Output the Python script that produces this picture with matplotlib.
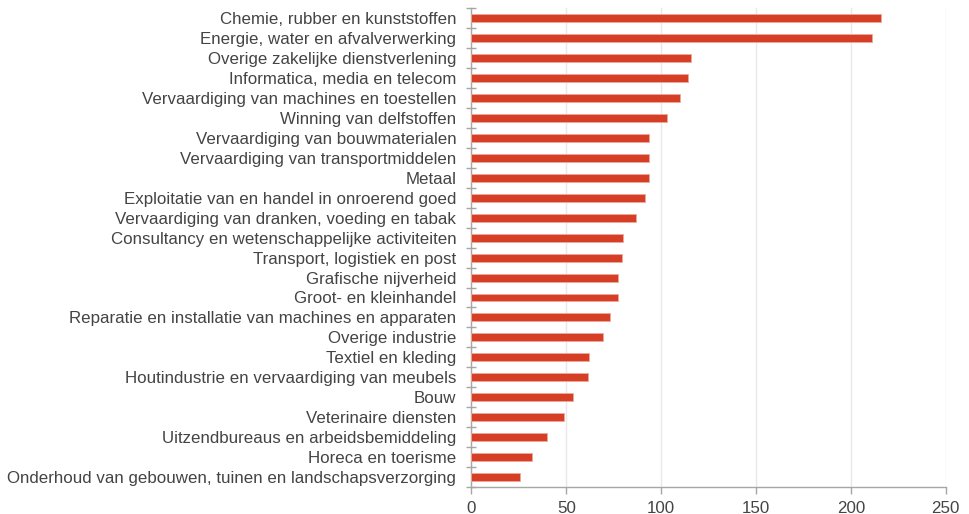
import matplotlib
matplotlib.use("Agg")
import matplotlib.pyplot as plt
import numpy as np

plt.rcParams['font.family'] = ['Liberation Sans', 'DejaVu Sans']

sectors = [
    "Chemie, rubber en kunststoffen",
    "Energie, water en afvalverwerking",
    "Overige zakelijke dienstverlening",
    "Informatica, media en telecom",
    "Vervaardiging van machines en toestellen",
    "Winning van delfstoffen",
    "Vervaardiging van bouwmaterialen",
    "Vervaardiging van transportmiddelen",
    "Metaal",
    "Exploitatie van en handel in onroerend goed",
    "Vervaardiging van dranken, voeding en tabak",
    "Consultancy en wetenschappelijke activiteiten",
    "Transport, logistiek en post",
    "Grafische nijverheid",
    "Groot- en kleinhandel",
    "Reparatie en installatie van machines en apparaten",
    "Overige industrie",
    "Textiel en kleding",
    "Houtindustrie en vervaardiging van meubels",
    "Bouw",
    "Veterinaire diensten",
    "Uitzendbureaus en arbeidsbemiddeling",
    "Horeca en toerisme",
    "Onderhoud van gebouwen, tuinen en landschapsverzorging",
]
values = [216, 211, 115.5, 114.3, 110, 103, 93.4, 93.4, 93.4, 91.3, 86.6,
          79.9, 79.4, 77.3, 77.3, 73, 69.4, 61.8, 61.3, 53.8, 49, 39.9, 32, 25.7]
xticks = [0, 50, 100, 150, 200, 250]

text_color = "#444444"
axis_color = "#a6a6a6"
bar_color = "#d63f26"

fig = plt.figure(figsize=(9.7, 5.14), dpi=100)
ax = fig.add_axes([0.486, 0.0525, 0.489, 0.9315])

n = len(sectors)
y = np.arange(n)
ax.barh(y, values, height=0.4, color=bar_color, edgecolor="#eca99c",
        linewidth=0.6, zorder=3)

ax.set_ylim(n - 0.5, -0.5)
ax.set_xlim(0, 250)

ax.set_yticks(y)
ax.set_yticklabels(sectors)
ax.set_yticks(np.arange(n + 1) - 0.5, minor=True)
ax.tick_params(axis='y', which='major', length=0, pad=11,
               labelsize=12.2, labelcolor=text_color)
ax.tick_params(axis='y', which='minor', length=7, width=1,
               direction='inout', color=axis_color)

ax.set_xticks(xticks)
ax.set_xticklabels([str(t) for t in xticks])
ax.tick_params(axis='x', which='major', length=5, width=1, pad=5,
               color=axis_color, labelsize=12.2, labelcolor=text_color)

ax.grid(axis='x', color="#e8e8e8", linewidth=1, zorder=0)
ax.set_axisbelow(True)

for side in ('top', 'right'):
    ax.spines[side].set_visible(False)
for side in ('left', 'bottom'):
    ax.spines[side].set_color(axis_color)
    ax.spines[side].set_linewidth(1)

fig.savefig("out.png", dpi=100)
